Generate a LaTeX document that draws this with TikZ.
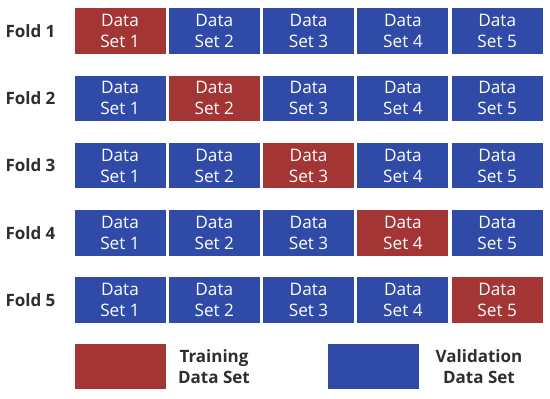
\documentclass[tikz,border=0pt]{standalone}
\usepackage{fontspec}
\setmainfont{Open Sans}
\usetikzlibrary{positioning}
\definecolor{trainred}{RGB}{163,53,52}
\definecolor{validblue}{RGB}{47,75,167}

\begin{document}
\begin{tikzpicture}[x=1pt, y=-1pt,
      cell/.style={minimum width=91pt, minimum height=45.5pt, inner sep=0pt,
                   text=white, align=center, font=\fontsize{17.2}{21}\selectfont},
      fold/.style={font=\fontsize{17}{21}\selectfont\bfseries, text=black!82},
      key/.style={font=\fontsize{17}{21}\selectfont\bfseries, align=center, text=black!82}]

    \useasboundingbox (0,0) rectangle (550,399);

    % ---- Layout ----
    \def\xpitch{94.3}   % column step
    \def\ypitch{67.25}  % row step

    % ---- 5 folds x 5 data sets ----
    \foreach \f in {1,...,5} {
      \node[fold] (fold\f) at (30.5, {31+(\f-1)*\ypitch}) {Fold \f};
      \foreach \s in {1,...,5} {
        \ifnum\s=\f \def\cellcol{trainred}\else \def\cellcol{validblue}\fi
        \node[cell, fill=\cellcol] (d\f-\s) at ({120+(\s-1)*\xpitch}, {31+(\f-1)*\ypitch}) {Data\\Set \s};
      }
    }

    % ---- Legend ----
    \node[cell, fill=trainred] (trainkey) at (120, 366.7) {};
    \node[key] (trainlbl) at (214, 367) {Training\\Data Set};
    \node[cell, fill=validblue] (validkey) at (373.2, 366.7) {};
    \node[key] (validlbl) at (479, 367) {Validation\\Data Set};

\end{tikzpicture}
\end{document}
